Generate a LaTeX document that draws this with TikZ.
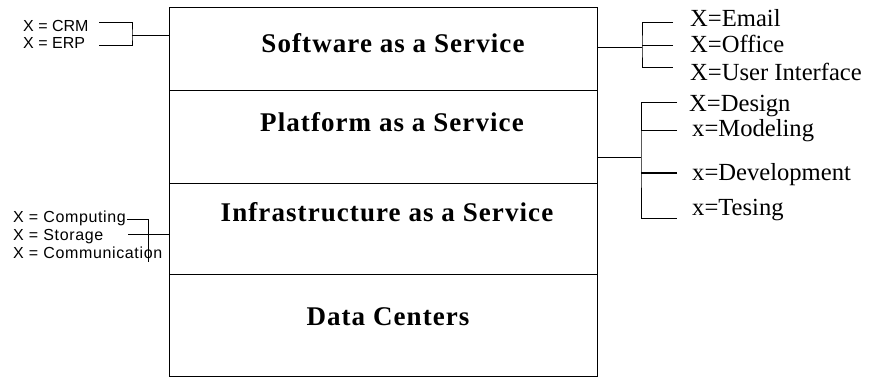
\documentclass[tikz,border=0pt]{standalone}
\usepackage{fontspec}
\setmainfont{Liberation Serif}
\newfontfamily\lsans{Liberation Sans}
\newfontfamily\lsanswide[LetterSpace=4]{Liberation Sans}
\begin{document}
\begin{tikzpicture}[x=1pt,y=-1pt,
  layer/.style={draw, line width=1.2pt, minimum width=428pt, inner sep=0pt, anchor=north west},
  ltitle/.style={font=\fontsize{27}{30}\selectfont\bfseries\addfontfeature{LetterSpace=4}, inner sep=0pt},
  rlab/.style={font=\fontsize{24.6}{28}\selectfont, anchor=base west, inner sep=0pt},
  llab/.style={font=\lsans\fontsize{16}{18}\selectfont, anchor=base west, inner sep=0pt},
  llabw/.style={font=\lsanswide\fontsize{16}{18}\selectfont, anchor=base west, inner sep=0pt},
  conn/.style={line width=1pt},
  thick conn/.style={line width=1.7pt}]
\useasboundingbox (0,0) rectangle (870,377);

% layers
\node[layer, minimum height=83pt]  (saas) at (169,7)   {};
\node[layer, minimum height=93pt]  (paas) at (169,90)  {};
\node[layer, minimum height=91pt]  (iaas) at (169,183) {};
\node[layer, minimum height=102pt] (dc)   at (169,274) {};

\node[ltitle] (saast) at (393,43)  {Software as a Service};
\node[ltitle] (paast) at (392,122) {Platform as a Service};
\node[ltitle] (iaast) at (387,212) {Infrastructure as a Service};
\node[ltitle] (dct)   at (388,317) {Data Centers};

% left labels
\node[llab] (crm)  at (23,32)  {X = CRM};
\node[llab] (erp)  at (23,49)  {X = ERP};
\node[llabw] (comp) at (13,222) {X = Computing};
\node[llabw] (stor) at (13,240) {X = Storage};
\node[llabw] (comm) at (13,258) {X = Communication};

% right labels
\node[rlab] (email)  at (690,27)  {X=Email};
\node[rlab] (office) at (690,53)  {X=Office};
\node[rlab] (ui)     at (690,81)  {X=User Interface};
\node[rlab] (design) at (689,112) {X=Design};
\node[rlab] (model)  at (692,137) {x=Modeling};
\node[rlab] (devel)  at (692,180) {x=Development};
\node[rlab] (test)   at (692,215) {x=Tesing};

% SaaS left bracket
\coordinate (c1) at (99,23);
\coordinate (c2) at (99,46);
\coordinate (cj) at (132,36);
\draw[conn] (c1) -| (cj) |- (c2);
\draw[conn] (cj) -- (saas.west |- cj);

% IaaS left bracket
\coordinate (ia) at (127,219);
\coordinate (ib) at (148,219);
\coordinate (ic) at (148,262);
\coordinate (is) at (128,234);
\draw[conn] (ia) -- (ib) -- (ic);
\draw[conn] (is) -- (iaas.west |- is);

% SaaS right bracket
\coordinate (sj)  at (642,48);
\coordinate (se1) at (673,23);
\coordinate (se2) at (673,46);
\coordinate (se3) at (673,68);
\draw[conn] (saas.east |- sj) -- (sj);
\draw[conn] (se1) -| (sj) |- (se3);
\draw[conn] (se2) -- (se2 -| sj);

% PaaS right bracket
\coordinate (pj)  at (641,158);
\coordinate (pe1) at (677,103);
\coordinate (pe2) at (677,131);
\coordinate (pe3) at (677,173);
\coordinate (pe4) at (677,218);
\draw[conn] (paas.east |- pj) -- (pj);
\draw[conn] (pe1) -| (pj) |- (pe4);
\draw[conn] (pe2) -- (pe2 -| pj);
\draw[thick conn] (pe3) -- (pe3 -| pj);
\end{tikzpicture}
\end{document}
